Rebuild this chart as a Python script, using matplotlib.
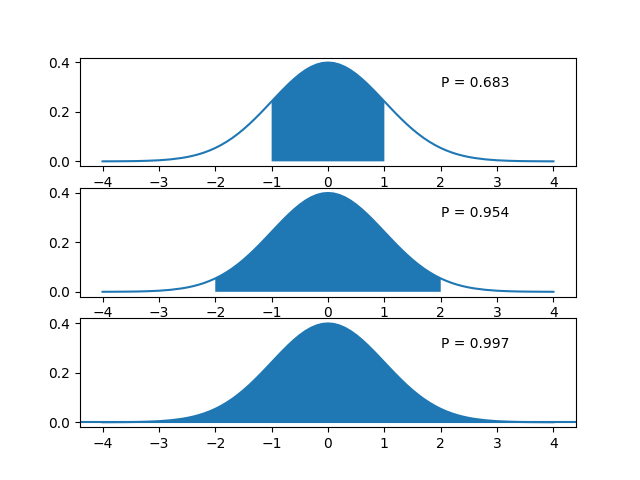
import matplotlib
matplotlib.use("Agg")
import matplotlib.pyplot as plt
import numpy as np

# standard normal density (finer steps near the middle)
x = [-4.0, -3.8, -3.6, -3.4, -3.2, -3.0, -2.8,
     -2.6, -2.5, -2.4, -2.3, -2.2, -2.1, -2.0, -1.9, -1.8, -1.7, -1.6, -1.5, -1.4,
     -1.3, -1.2, -1.1, -1.0, -0.9, -0.8, -0.7, -0.6, -0.5, -0.4, -0.3, -0.2, -0.1,
     0.0,
     0.1, 0.2, 0.3, 0.4, 0.5, 0.6, 0.7, 0.8, 0.9, 1.0, 1.1, 1.2, 1.3,
     1.4, 1.5, 1.6, 1.7, 1.8, 1.9, 2.0, 2.1, 2.2, 2.3, 2.4, 2.5, 2.6,
     2.8, 3.0, 3.2, 3.4, 3.6, 3.8, 4.0]
pdf = [0.0001, 0.0003, 0.0006, 0.0012, 0.0024, 0.0044, 0.0079,
       0.0136, 0.0175, 0.0224, 0.0283, 0.0355, 0.0440, 0.0540, 0.0656, 0.0790, 0.0940, 0.1109, 0.1295, 0.1497,
       0.1714, 0.1942, 0.2179, 0.2420, 0.2661, 0.2897, 0.3123, 0.3332, 0.3521, 0.3683, 0.3814, 0.3910, 0.3970,
       0.3989,
       0.3970, 0.3910, 0.3814, 0.3683, 0.3521, 0.3332, 0.3123, 0.2897, 0.2661, 0.2420, 0.2179, 0.1942, 0.1714,
       0.1497, 0.1295, 0.1109, 0.0940, 0.0790, 0.0656, 0.0540, 0.0440, 0.0355, 0.0283, 0.0224, 0.0175, 0.0136,
       0.0079, 0.0044, 0.0024, 0.0012, 0.0006, 0.0003, 0.0001]

sigmas = [1, 2, 3]
probs = ["0.683", "0.954", "0.997"]

x = np.array(x)
pdf = np.array(pdf)

fig, axes = plt.subplots(3, 1, figsize=(6.4, 4.8), dpi=100)

for ax, s, p in zip(axes, sigmas, probs):
    ax.plot(x, pdf)
    if s < 3:
        mask = (x >= -s - 1e-9) & (x <= s + 1e-9)
        ax.fill_between(x, pdf, where=mask)
    else:
        # last panel: whole curve filled, line along zero across the axes
        ax.fill_between(x, pdf)
        ax.axhline(0, color="C0", lw=1.5)
    ax.text(2, 0.3, "P = " + p)
    ax.set_xlim(-4.4, 4.4)
    ax.set_yticks([0.0, 0.2, 0.4])

plt.savefig("out.png")
